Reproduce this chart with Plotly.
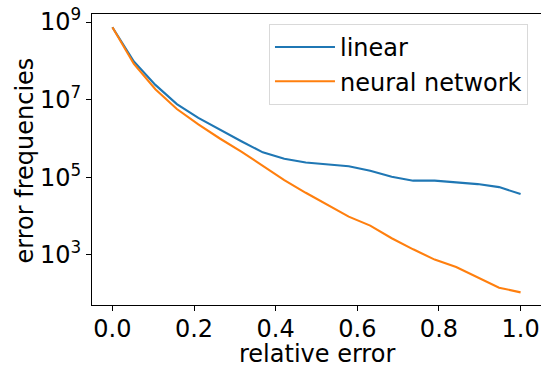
import numpy as np
import plotly.graph_objects as go

# relative error bins (20 points from 0 to 1)
rel_error = [i / 19 for i in range(20)]

linear = [7.3e8, 9.6e7, 2.4e7, 7.7e6, 3.4e6, 1.66e6, 8.5e5, 4.4e5, 3.0e5, 2.4e5,
          2.16e5, 1.92e5, 1.48e5, 1.04e5, 8.2e4, 8.2e4, 7.4e4, 6.7e4, 5.6e4, 3.7e4]
neural = [7.3e8, 8.3e7, 1.85e7, 5.75e6, 2.3e6, 1.0e6, 4.6e5, 1.96e5, 8.5e4, 4.0e4,
          1.98e4, 9.7e3, 5.7e3, 2.7e3, 1.4e3, 7.6e2, 4.9e2, 2.7e2, 1.44e2, 1.09e2]

x_ticks = [0.0, 0.2, 0.4, 0.6, 0.8, 1.0]
x_ticktext = ["0.0", "0.2", "0.4", "0.6", "0.8", "1.0"]
y_ticks = [1e3, 1e5, 1e7, 1e9]
y_ticktext = ["10<sup>3</sup>", "10<sup>5</sup>", "10<sup>7</sup>", "10<sup>9</sup>"]
x_title = "relative error"
y_title = "error frequencies"

FONT = "DejaVu Sans"
FS = 24
W, H = 541, 367
ML, MR, MT, MB = 92, 0, 14, 62
PW, PH = W - ML - MR, H - MT - MB

fig = go.Figure()
fig.add_trace(go.Scatter(x=rel_error, y=linear, mode="lines", name="linear",
                         line=dict(color="#1f77b4", width=2.1)))
fig.add_trace(go.Scatter(x=rel_error, y=neural, mode="lines", name="neural network",
                         line=dict(color="#ff7f0e", width=2.1)))

axis_common = dict(showline=True, linecolor="black", linewidth=1.1, mirror=True,
                   ticks="outside", ticklen=5, tickwidth=1.1, tickcolor="black",
                   showgrid=False, zeroline=False,
                   tickfont=dict(family=FONT, size=FS, color="black"))

fig.update_xaxes(range=[-0.05, 1.05], tickvals=x_ticks, ticktext=x_ticktext,
                 ticklabelstandoff=-3, **axis_common)
fig.update_yaxes(type="log", range=[1.712, 9.206], tickvals=y_ticks, ticktext=y_ticktext,
                 **axis_common)

# axis titles placed as annotations (paper coordinates from pixel positions)
fig.add_annotation(text=x_title, xref="paper", yref="paper",
                   x=(317 - ML) / PW, y=(MT + PH - 354) / PH,
                   xanchor="center", yanchor="middle", showarrow=False,
                   font=dict(family=FONT, size=FS, color="black"))
fig.add_annotation(text=y_title, xref="paper", yref="paper",
                   x=(24 - ML) / PW, y=(MT + PH - 160.5) / PH, textangle=-90,
                   xanchor="center", yanchor="middle", showarrow=False,
                   font=dict(family=FONT, size=FS, color="black"))

fig.update_layout(
    width=W, height=H,
    margin=dict(l=ML, r=MR, t=MT, b=MB),
    plot_bgcolor="white", paper_bgcolor="white",
    font=dict(family=FONT, size=FS, color="black"),
    legend=dict(x=0.971, y=0.966, xanchor="right", yanchor="top",
                bgcolor="rgba(255,255,255,0.8)", bordercolor="#d9d9d9", borderwidth=1,
                font=dict(family=FONT, size=FS, color="black"), itemwidth=60,
                tracegroupgap=0),
)

fig.write_html("out.html")
